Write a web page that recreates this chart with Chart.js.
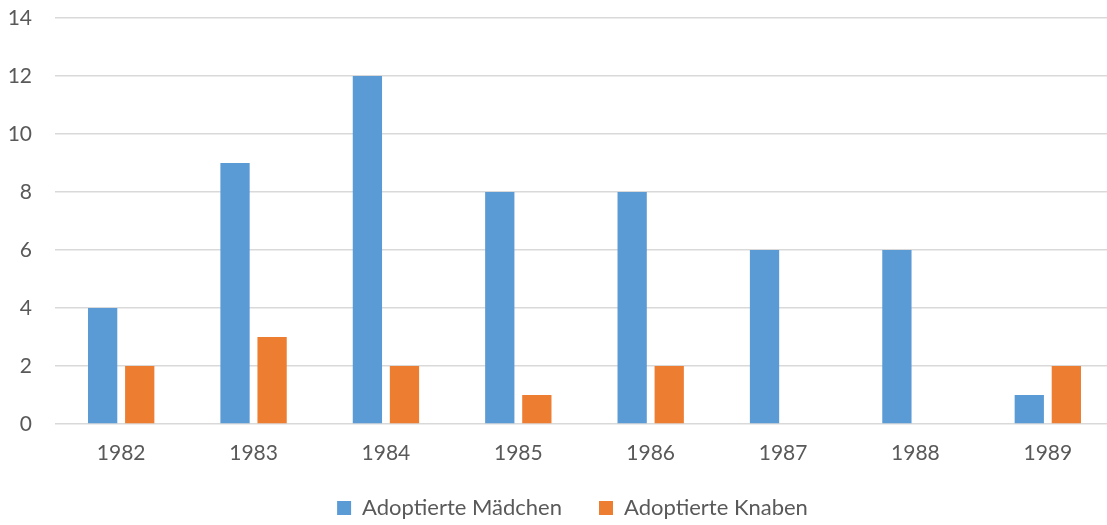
<!DOCTYPE html>
<html>
<head>
<meta charset="utf-8">
<script src="https://cdn.jsdelivr.net/npm/chart.js@4/dist/chart.umd.min.js"></script>
<style>
  html, body { margin: 0; padding: 0; background: #fff; overflow: hidden; }
  #wrap { width: 1114px; height: 525px; position: relative; }
</style>
</head>
<body>
<div id="wrap"><canvas id="chart"></canvas></div>
<script>
// Adoptionen pro Jahr — Balkendiagramm
const YEARS = ['1982', '1983', '1984', '1985', '1986', '1987', '1988', '1989'];
const MAEDCHEN = [4, 9, 12, 8, 8, 6, 6, 1];
const KNABEN = [2, 3, 2, 1, 2, 0, 0, 2];
const Y_TICKS = [0, 2, 4, 6, 8, 10, 12, 14];

const FONT = 'Lato, "Open Sans", sans-serif';
const TXT = '#595959';

// leere Platzhalter in der Legende, nur für Abstand und Lage
function legendLabels(chart) {
  const items = Chart.defaults.plugins.legend.labels.generateLabels(chart);
  const spacer = () => ({ text: '', fillStyle: 'rgba(0,0,0,0)', strokeStyle: 'rgba(0,0,0,0)', lineWidth: 0, hidden: false });
  return [spacer(), items[0], spacer(), items[1]];
}

new Chart(document.getElementById('chart').getContext('2d'), {
  type: 'bar',
  data: {
    labels: YEARS,
    datasets: [
      { label: 'Adoptierte Mädchen', data: MAEDCHEN, backgroundColor: '#5b9bd5' },
      { label: 'Adoptierte Knaben', data: KNABEN, backgroundColor: '#ed7d31' },
    ]
  },
  options: {
    responsive: true,
    maintainAspectRatio: false,
    animation: false,
    layout: { padding: { top: 18, right: 0, bottom: -4, left: 0 } },
    datasets: { bar: { categoryPercentage: 0.56, barPercentage: 0.79 } },
    plugins: {
      tooltip: { enabled: false },
      legend: {
        position: 'bottom',
        labels: {
          color: TXT, font: { family: FONT, size: 22 },
          boxWidth: 14, boxHeight: 14, padding: 6,
          generateLabels: legendLabels,
        }
      }
    },
    scales: {
      x: {
        grid: { display: false },
        border: { display: false },
        ticks: { color: TXT, font: { family: FONT, size: 21 }, padding: 9 },
        afterFit: s => { s.height = 67; }
      },
      y: {
        min: 0, max: 14,
        afterBuildTicks: s => { s.ticks = Y_TICKS.map(v => ({ value: v })); },
        grid: { color: '#d9d9d9', lineWidth: 1.5, drawTicks: false },
        border: { display: false },
        ticks: { color: TXT, font: { family: FONT, size: 21 }, padding: 23 },
        afterFit: s => { s.width = 55; s.paddingTop = 0; s.paddingBottom = 0; }
      }
    }
  }
});
</script>
</body>
</html>
